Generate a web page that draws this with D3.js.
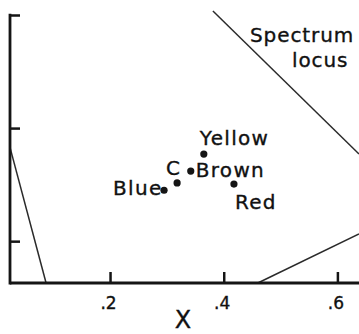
<!DOCTYPE html>
<html>
<head>
<meta charset="utf-8">
<script src="https://cdn.jsdelivr.net/npm/d3@7/dist/d3.min.js"></script>
<style>
  html, body { margin: 0; padding: 0; background: #fff; }
  svg { display: block; }
  text { font-family: "DejaVu Sans", sans-serif; fill: #111; stroke: #111; stroke-width: 0.35px; }
</style>
</head>
<body>
<svg id="chart" width="359" height="334"></svg>
<script>
// Chromaticity coordinates (x, y) of the sample colours and illuminant C
const sampleNames = ["Yellow", "Brown", "C", "Blue", "Red"];
const sampleX = [0.365, 0.342, 0.318, 0.295, 0.418];
const sampleY = [0.354, 0.324, 0.303, 0.290, 0.301];

// Boundary segments of the chromaticity diagram within the plotted window
const locusGreenX = [0.381, 0.638];   // spectrum locus, green–red side
const locusGreenY = [0.607, 0.354];
const locusBlueX = [0.0242, 0.0875];  // spectrum locus, blue–green side
const locusBlueY = [0.365, 0.126];
const purpleX = [0.460, 0.638];       // line of purples
const purpleY = [0.126, 0.213];

// Axis ticks
const xTicks = [0.2, 0.4, 0.6];
const xTickLabels = [".2", ".4", ".6"];
const yTicks = [0.2, 0.4, 0.6];
const xAxisTitle = "X";
const locusLabel = ["Spectrum", "locus"];

const svg = d3.select("#chart");

const x = d3.scaleLinear().domain([0.024, 0.638]).range([10, 359]);
const y = d3.scaleLinear().domain([0.126, 0.6]).range([283, 15]);

const ink = "#151515";

// Boundary lines
const line = d3.line().x(d => x(d[0])).y(d => y(d[1]));
[[locusGreenX, locusGreenY], [locusBlueX, locusBlueY], [purpleX, purpleY]].forEach(([xs, ys]) => {
  svg.append("path")
    .datum(xs.map((v, i) => [v, ys[i]]))
    .attr("d", line)
    .attr("fill", "none")
    .attr("stroke", "#2a2a2a")
    .attr("stroke-width", 1.5);
});

// X axis with inward ticks
const xAxis = d3.axisBottom(x)
  .tickValues(xTicks)
  .tickSizeInner(-11)
  .tickSizeOuter(0)
  .tickFormat((d, i) => xTickLabels[i]);

const gx = svg.append("g").attr("transform", `translate(0,${y.range()[0]})`).call(xAxis);
gx.select(".domain").attr("stroke", ink).attr("stroke-width", 2.8)
  .attr("d", `M${x.range()[0]},0H${x.range()[1]}`);
gx.selectAll(".tick line").attr("stroke", ink).attr("stroke-width", 2.5);
gx.selectAll(".tick text")
  .attr("y", 26).attr("dy", null)
  .attr("dx", -2)
  .style("font-size", "17px")
  .attr("fill", ink);

// Y axis with inward ticks, no labels
const yAxis = d3.axisLeft(y)
  .tickValues(yTicks)
  .tickSizeInner(-10)
  .tickSizeOuter(0)
  .tickFormat("");

const gy = svg.append("g").attr("transform", `translate(${x.range()[0]},0)`).call(yAxis);
gy.select(".domain").attr("stroke", ink).attr("stroke-width", 2.8)
  .attr("d", `M0,${y.range()[0] + 1.4}V${y.range()[1] - 1.2}`);
gy.selectAll(".tick line").attr("stroke", ink).attr("stroke-width", 2.5);

// Axis title
svg.append("text")
  .attr("x", 183).attr("y", 328)
  .attr("text-anchor", "middle")
  .style("font-size", "24px")
  .text(xAxisTitle);

// Sample points
const samples = sampleNames.map((n, i) => ({ name: n, x: sampleX[i], y: sampleY[i] }));
svg.selectAll("circle.sample")
  .data(samples)
  .join("circle")
  .attr("class", "sample")
  .attr("cx", d => x(d.x))
  .attr("cy", d => y(d.y))
  .attr("r", 3.6)
  .attr("fill", ink);

// Point labels: offsets from each point
const labelOffsets = {
  Yellow: [-4, -9],
  Brown: [5, 6],
  C: [-11, -8],
  Blue: [-51, 5],
  Red: [1, 25]
};
svg.selectAll("text.sample-label")
  .data(samples)
  .join("text")
  .attr("class", "sample-label")
  .attr("x", d => x(d.x) + labelOffsets[d.name][0])
  .attr("y", d => y(d.y) + labelOffsets[d.name][1])
  .style("font-size", "20px")
  .style("letter-spacing", "1.3px")
  .text(d => d.name);

// Spectrum locus label
svg.append("text")
  .attr("x", 250).attr("y", 42)
  .style("font-size", "20px")
  .style("letter-spacing", "0.9px")
  .text(locusLabel[0]);
svg.append("text")
  .attr("x", 292).attr("y", 67)
  .style("font-size", "20px")
  .style("letter-spacing", "0.9px")
  .text(locusLabel[1]);
</script>
</body>
</html>
